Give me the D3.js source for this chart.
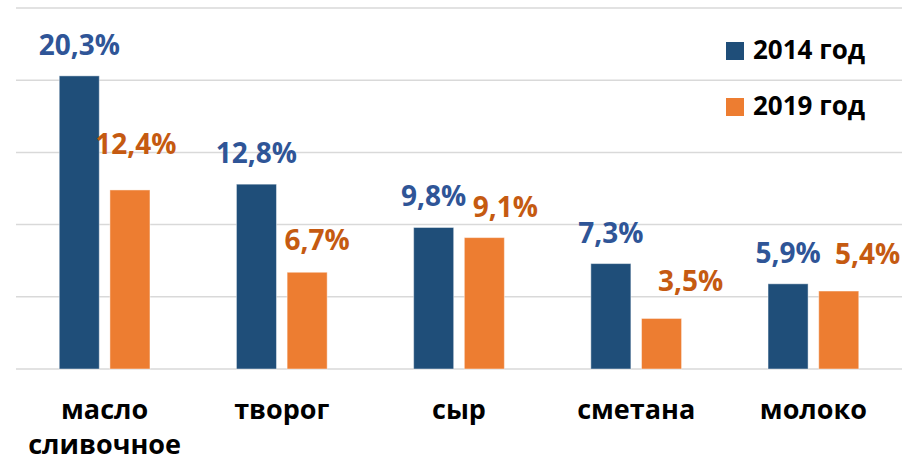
<!DOCTYPE html>
<html lang="ru">
<head>
  <meta charset="UTF-8">
  <title>Масло, творог, сыр, сметана, молоко</title>
  <script src="https://d3js.org/d3.v7.min.js"></script>
  <style>
    html, body { margin: 0; padding: 0; background: #fff; }
    body { font-family: "Open Sans", "Noto Sans", sans-serif; }
    .grid line { stroke: #d9d9d9; stroke-width: 1.5; }
    .cat { font-size: 27px; font-weight: bold; fill: #000; }
    .val { font-size: 28px; font-weight: bold; }
    .legend text { font-size: 26px; font-weight: bold; fill: #000; }
  </style>
</head>
<body>
<div id="chart"></div>
<script>
const categories = ["масло сливочное", "творог", "сыр", "сметана", "молоко"];
const series = ["2014 год", "2019 год"];
const values2014 = [20.3, 12.8, 9.8, 7.3, 5.9];
const values2019 = [12.4, 6.7, 9.1, 3.5, 5.4];
const gridTicks = [0, 5, 10, 15, 20, 25];

const barColors = ["#1f4e79", "#ed7d31"];
const labelColors = ["#2f5597", "#c55a11"];
// hand-placed orange labels in the original
const nudge2019 = [[6, 15], [10, 1], [21, 0], [29, 6], [29, 6]];

const width = 913, height = 462;
const margin = { left: 16, right: 11, top: 8, bottom: 93 };

const svg = d3.select("#chart").append("svg")
  .attr("width", width)
  .attr("height", height);

const x = d3.scaleBand()
  .domain(categories)
  .range([margin.left, width - margin.right]);

const bw = x.bandwidth();
const x1 = d3.scaleBand()
  .domain(series)
  .range([bw * 0.244, bw * 0.756])
  .paddingInner(0.21);

const y = d3.scaleLinear()
  .domain([0, 25])
  .range([height - margin.bottom, margin.top]);

svg.append("g").attr("class", "grid")
  .selectAll("line")
  .data(gridTicks)
  .enter().append("line")
  .attr("x1", margin.left)
  .attr("x2", width - margin.right)
  .attr("y1", d => y(d))
  .attr("y2", d => y(d));

const rows = categories.map((c, i) => ({
  cat: c,
  vals: [values2014[i], values2019[i]],
  i: i
}));

const fmt = d => d3.format(".1f")(d).replace(".", ",") + "%";

const groups = svg.selectAll("g.group")
  .data(rows)
  .enter().append("g")
  .attr("class", "group")
  .attr("transform", d => `translate(${x(d.cat)},0)`);

groups.selectAll("rect")
  .data(d => d.vals.map((v, s) => ({ v: v, s: s })))
  .enter().append("rect")
  .attr("x", d => x1(series[d.s]))
  .attr("width", x1.bandwidth())
  .attr("y", d => y(d.v))
  .attr("height", d => y(0) - y(d.v))
  .attr("fill", d => barColors[d.s])
  .attr("stroke", "rgba(255,255,255,0.45)")
  .attr("stroke-width", 1);

groups.selectAll("text.val")
  .data(d => d.vals.map((v, s) => ({ v: v, s: s, i: d.i })))
  .enter().append("text")
  .attr("class", "val")
  .attr("text-anchor", "middle")
  .attr("fill", d => labelColors[d.s])
  .attr("x", d => x1(series[d.s]) + x1.bandwidth() / 2 + (d.s === 1 ? nudge2019[d.i][0] : 0))
  .attr("y", d => y(d.v) - 21 - (d.s === 1 ? nudge2019[d.i][1] : 0))
  .text(d => fmt(d.v));

const catText = svg.selectAll("text.cat")
  .data(categories)
  .enter().append("text")
  .attr("class", "cat")
  .attr("text-anchor", "middle")
  .attr("x", d => x(d) + bw / 2)
  .attr("y", y(0) + 50);

catText.selectAll("tspan")
  .data(d => d.split(" "))
  .enter().append("tspan")
  .attr("x", function () { return d3.select(this.parentNode).attr("x"); })
  .attr("dy", (d, i) => i === 0 ? 0 : 35)
  .text(d => d);

const legend = svg.append("g").attr("class", "legend")
  .selectAll("g")
  .data(series)
  .enter().append("g")
  .attr("transform", (d, i) => `translate(726,${42 + i * 56})`);

legend.append("rect")
  .attr("width", 18)
  .attr("height", 18)
  .attr("fill", (d, i) => barColors[i]);

legend.append("text")
  .attr("x", 27)
  .attr("y", 17)
  .text(d => d);
</script>
</body>
</html>
